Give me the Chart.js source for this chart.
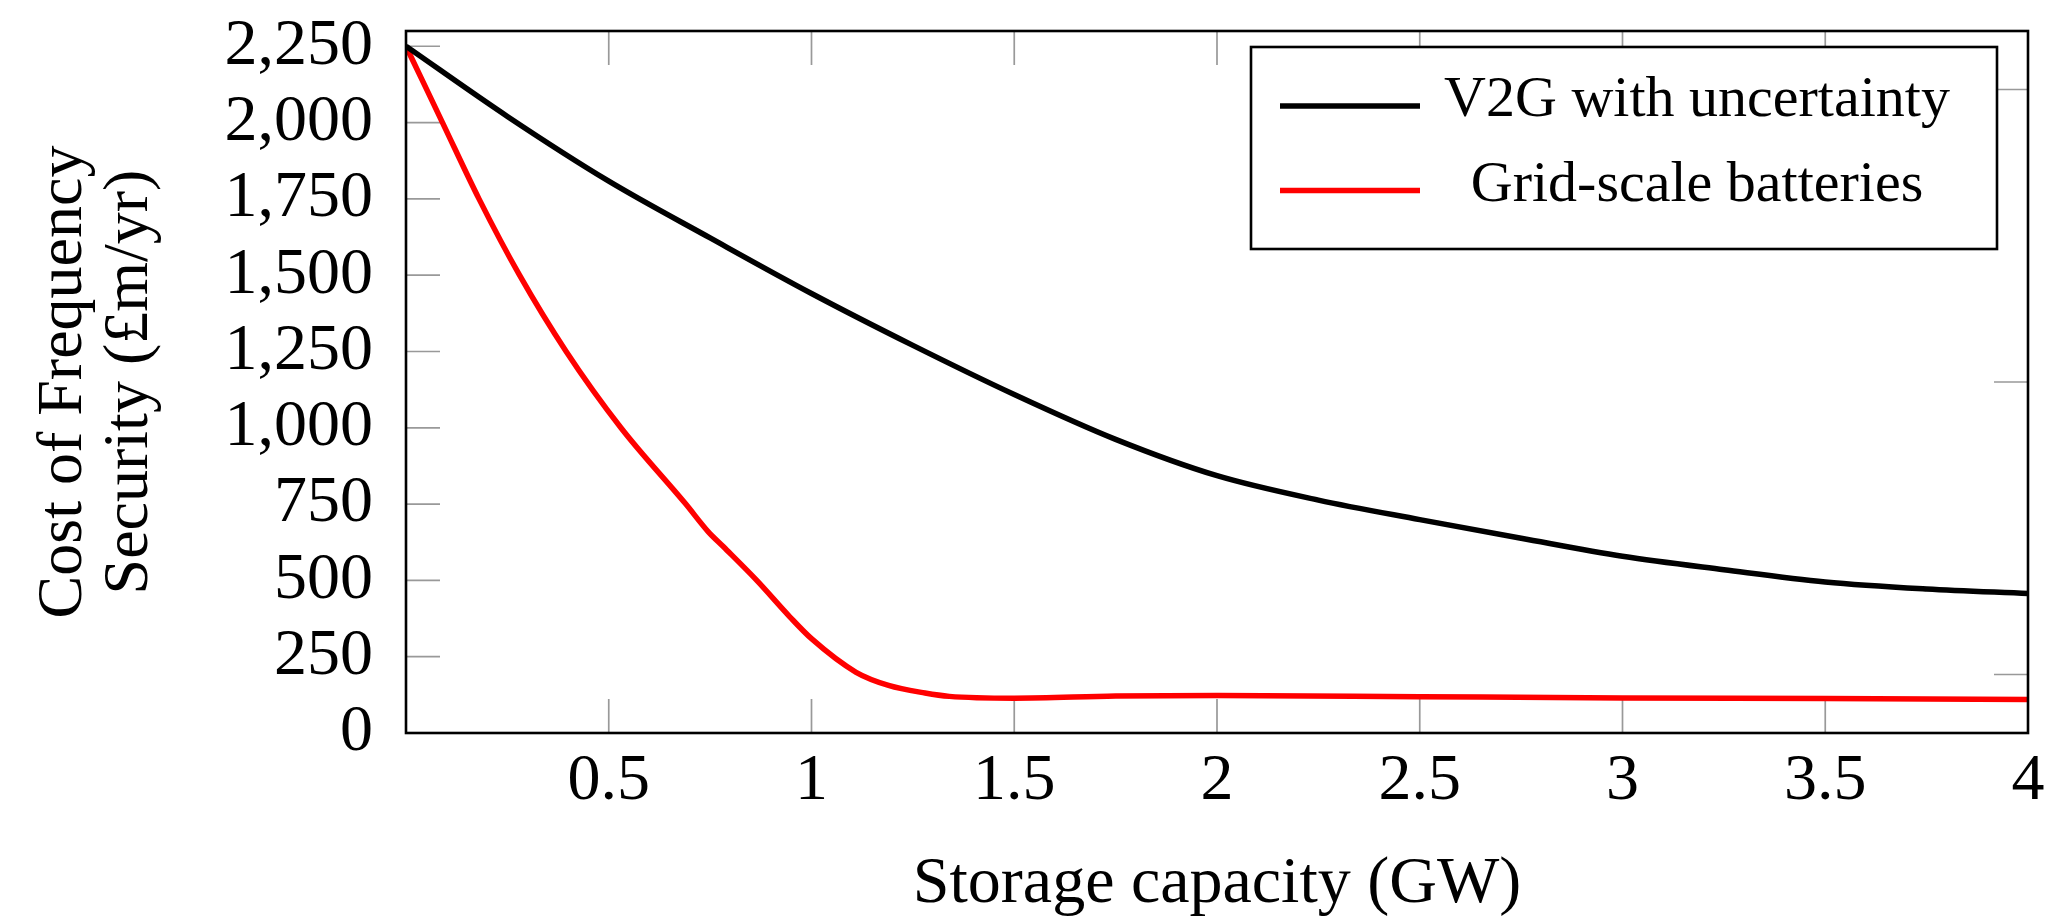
<!DOCTYPE html>
<html>
<head>
<meta charset="utf-8">
<script src="https://cdn.jsdelivr.net/npm/chart.js@4.4.1/dist/chart.umd.min.js"></script>
<style>
html, body { margin: 0; padding: 0; background: #fff; }
</style>
</head>
<body>
<canvas id="chart" width="2045" height="919"></canvas>
<script>
// storage capacity (GW) vs cost (£m/yr)
const capacityV2G = [0, 0.25, 0.5, 0.75, 1, 1.25, 1.5, 1.75, 2, 2.25, 2.5, 2.75, 3, 3.25, 3.5, 3.75, 4];
const costV2G = [2250, 2020, 1808, 1622, 1440, 1270, 1109, 962, 843, 763, 699, 638, 579, 535, 495, 472, 457];

const capacityBatt = [0, 0.09, 0.18, 0.28, 0.395, 0.53, 0.69, 0.745, 0.783, 0.865, 0.947, 1, 1.11, 1.19, 1.28, 1.34, 1.5, 1.75, 2, 2.5, 3, 3.5, 4];
const costBatt = [2250, 2000, 1750, 1500, 1250, 1000, 750, 660, 610, 500, 380, 309, 199, 156, 131, 120, 114, 121, 123, 119, 115, 113, 110];

const xTicks = [0.5, 1, 1.5, 2, 2.5, 3, 3.5, 4];
const yTicks = [0, 250, 500, 750, 1000, 1250, 1500, 1750, 2000, 2250];
const rightTicks = [1, 2, 3];

const serif = '"Liberation Serif", "Times New Roman", serif';

const framePlugin = {
    id: 'frame',
    beforeDatasetsDraw(chart) {
        const {ctx, chartArea: a, scales} = chart;
        ctx.save();
        ctx.strokeStyle = '#999';
        ctx.lineWidth = 1.7;
        ctx.beginPath();
        xTicks.forEach(v => {
            const px = scales.x.getPixelForValue(v);
            ctx.moveTo(px, a.bottom); ctx.lineTo(px, a.bottom - 34);
            ctx.moveTo(px, a.top); ctx.lineTo(px, a.top + 34);
        });
        yTicks.forEach(v => {
            const py = scales.y.getPixelForValue(v);
            ctx.moveTo(a.left, py); ctx.lineTo(a.left + 34, py);
        });
        rightTicks.forEach(v => {
            const py = scales.y2.getPixelForValue(v);
            ctx.moveTo(a.right, py); ctx.lineTo(a.right - 34, py);
        });
        ctx.stroke();
        ctx.restore();
    },
    afterDatasetsDraw(chart) {
        const {ctx, chartArea: a} = chart;
        ctx.save();
        // axis box
        ctx.strokeStyle = '#000';
        ctx.lineWidth = 2.6;
        ctx.strokeRect(a.left, a.top, a.right - a.left, a.bottom - a.top);

        // legend
        const w = 746, h = 202;
        const left = a.right - 31 - w, top = a.top + 16;
        ctx.fillStyle = '#fff';
        ctx.fillRect(left, top, w, h);
        ctx.lineWidth = 2.6;
        ctx.strokeRect(left, top, w, h);
        ctx.font = '58px ' + serif;
        ctx.textAlign = 'center';
        ctx.textBaseline = 'middle';
        chart.data.datasets.forEach((ds, i) => {
            const y = top + 59 + i * 84.5;
            ctx.strokeStyle = ds.borderColor;
            ctx.lineWidth = 5.5;
            ctx.beginPath();
            ctx.moveTo(left + 29, y);
            ctx.lineTo(left + 169, y);
            ctx.stroke();
            ctx.fillStyle = '#000';
            ctx.fillText(ds.label, left + 446, y - 5);
        });
        ctx.restore();
    }
};

new Chart(document.getElementById('chart'), {
    type: 'line',
    data: {
        datasets: [{
            label: 'V2G with uncertainty',
            data: capacityV2G.map((x, i) => ({x: x, y: costV2G[i]})),
            borderColor: '#000000',
            borderWidth: 5.5,
            pointRadius: 0,
            cubicInterpolationMode: 'monotone',
            yAxisID: 'y'
        }, {
            label: 'Grid-scale batteries',
            data: capacityBatt.map((x, i) => ({x: x, y: costBatt[i]})),
            borderColor: '#ff0000',
            borderWidth: 5.5,
            pointRadius: 0,
            cubicInterpolationMode: 'monotone',
            yAxisID: 'y'
        }]
    },
    options: {
        responsive: false,
        animation: false,
        layout: {padding: {top: 31, right: 17, left: 0, bottom: 0}},
        plugins: {legend: {display: false}, tooltip: {enabled: false}},
        scales: {
            x: {
                type: 'linear', min: 0, max: 4, position: 'bottom',
                grid: {display: false, drawTicks: false},
                border: {display: false},
                afterBuildTicks: s => { s.ticks = xTicks.map(v => ({value: v})); },
                afterFit: s => { s.height = 186; s.paddingLeft = 0; s.paddingRight = 0; },
                ticks: {
                    color: '#000', padding: 16, maxRotation: 0, autoSkip: false,
                    font: {family: serif, size: 66, lineHeight: 1},
                    callback: v => String(v)
                },
                title: {
                    display: true, text: 'Storage capacity (GW)', color: '#000',
                    font: {family: serif, size: 66, lineHeight: 1},
                    padding: {top: 0, bottom: 1}
                }
            },
            y: {
                type: 'linear', min: 0, max: 2300, position: 'left',
                grid: {display: false, drawTicks: false},
                border: {display: false},
                afterBuildTicks: s => { s.ticks = yTicks.map(v => ({value: v})); },
                afterFit: s => { s.width = 406; s.paddingTop = 0; s.paddingBottom = 0; },
                ticks: {
                    color: '#000', padding: 33, autoSkip: false,
                    font: {family: serif, size: 66, lineHeight: 1},
                    callback: v => v.toLocaleString('en-US')
                },
                title: {
                    display: true, text: ['Cost of Frequency', 'Security (£m/yr)'], color: '#000',
                    font: {family: serif, size: 64, lineHeight: 1.02},
                    padding: {top: 32, bottom: 0}
                }
            },
            y2: {
                type: 'linear', min: 0.8, max: 3.2, position: 'right', display: false
            }
        }
    },
    plugins: [framePlugin]
});
</script>
</body>
</html>
